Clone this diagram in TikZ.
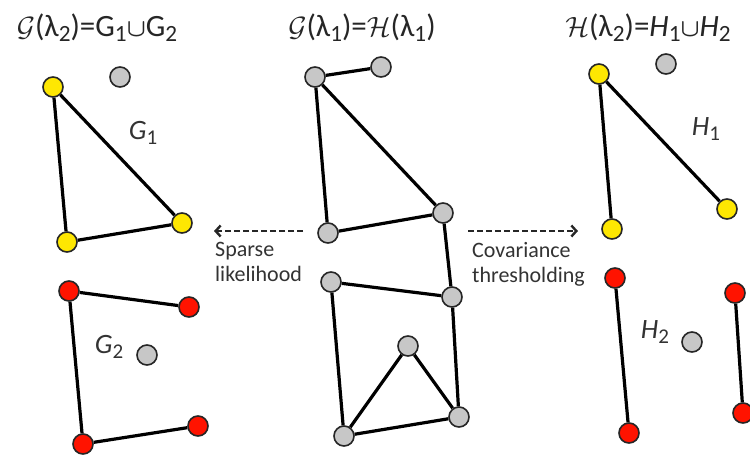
\documentclass[tikz,border=0pt]{standalone}
\usepackage{fontspec}
\setmainfont{Carlito}
\usepackage{graphicx}
\usetikzlibrary{arrows.meta}
\newcommand\lowsub[1]{\raisebox{-0.32ex}{\scalebox{0.75}{\upshape #1}}}
\newcommand\bigcal[1]{\scalebox{1.12}{$\mathcal{#1}$}}
\begin{document}
\begin{tikzpicture}[x=1pt,y=-1pt,
  vtx/.style={circle,draw=black!85,line width=1.6pt,minimum size=20pt,inner sep=0pt},
  gv/.style={vtx,fill=black!22},
  yv/.style={vtx,fill=yellow!95!red},
  rv/.style={vtx,fill=red!85!orange},
  edge/.style={line width=3.2pt,black},
  dasharrow/.style={line width=2.4pt,black!85,dash pattern=on 6pt off 3pt,-{Straight Barb[length=5pt,width=11pt,line width=2.4pt]}},
  ttl/.style={font=\fontsize{31}{34}\selectfont,text=black!85,inner sep=0pt},
  lbl/.style={font=\fontsize{28}{30}\selectfont\itshape,text=black!80,inner sep=0pt},
  side/.style={font=\fontsize{22}{25}\selectfont,text=black!80,align=left,inner sep=0pt,anchor=north west}]
\useasboundingbox (0,0) rectangle (750,459);
\clip (0,0) rectangle (750,459);
\fill[white] (0,0) rectangle (750,459);
% titles
\node[ttl] (t1) at (97,28) {\bigcal{G}(λ\lowsub{2})=G\lowsub{1}{\boldmath$\cup$}G\lowsub{2}};
\node[ttl] (t2) at (362,28) {\bigcal{G}(λ\lowsub{1})=\bigcal{H}(λ\lowsub{1})};
\node[ttl] (t3) at (648,28) {\bigcal{H}(λ\lowsub{2})=\textit{H}\lowsub{1}{\boldmath$\cup$}\textit{H}\lowsub{2}};
% left graph
\node[gv] (l0) at (120,77) {};
\node[yv] (l1) at (53,87) {};
\node[yv] (l2) at (67,242) {};
\node[yv] (l3) at (182,223) {};
\node[lbl] (lg1) at (143,133) {G\lowsub{1}};
\draw[edge] (l1) -- (l2);
\draw[edge] (l1) -- (l3);
\draw[edge] (l2) -- (l3);
\node[rv] (l4) at (69,291) {};
\node[rv] (l5) at (189,307) {};
\node[rv] (l6) at (83,444) {};
\node[rv] (l7) at (198,426) {};
\node[gv] (l8) at (147,355) {};
\node[lbl] (lg2) at (109,347) {G\lowsub{2}};
\draw[edge] (l4) -- (l5);
\draw[edge] (l4) -- (l6);
\draw[edge] (l6) -- (l7);
% middle graph
\node[gv] (m1) at (315,77) {};
\node[gv] (m2) at (381,67) {};
\node[gv] (m3) at (328,233) {};
\node[gv] (m4) at (443,213) {};
\node[gv] (m5) at (331,282) {};
\node[gv] (m6) at (452,297) {};
\node[gv] (m7) at (408,346) {};
\node[gv] (m8) at (344,436) {};
\node[gv] (m9) at (459,417) {};
\draw[edge] (m1) -- (m2);
\draw[edge] (m1) -- (m3);
\draw[edge] (m1) -- (m4);
\draw[edge] (m3) -- (m4);
\draw[edge] (m4) -- (m6);
\draw[edge] (m5) -- (m6);
\draw[edge] (m5) -- (m8);
\draw[edge] (m6) -- (m9);
\draw[edge] (m8) -- (m9);
\draw[edge] (m7) -- (m8);
\draw[edge] (m7) -- (m9);
% right graph
\node[yv] (r1) at (599,74) {};
\node[gv] (r0) at (666,64) {};
\node[yv] (r2) at (612,229) {};
\node[yv] (r3) at (727,209) {};
\node[lbl] (rh1) at (706,129) {H\lowsub{1}};
\draw[edge] (r1) -- (r2);
\draw[edge] (r1) -- (r3);
\node[rv] (r4) at (615,278) {};
\node[rv] (r5) at (629,433) {};
\node[gv] (r6) at (692,342) {};
\node[lbl] (rh2) at (655,332) {H\lowsub{2}};
\node[rv] (r7) at (735,293) {};
\node[rv] (r8) at (743,413) {};
\draw[edge] (r4) -- (r5);
\draw[edge] (r7) -- (r8);
% arrows
\coordinate (a1s) at (303,231);
\coordinate (a1e) at (214,231);
\coordinate (a2s) at (468,231);
\coordinate (a2e) at (578,231);
\draw[dasharrow] (a1s) -- (a1e);
\draw[dasharrow] (a2s) -- (a2e);
\node[side] (sl) at (215,242) {Sparse\\likelihood};
\node[side] (ct) at (472,242) {Covariance\\thresholding};
\end{tikzpicture}
\end{document}
